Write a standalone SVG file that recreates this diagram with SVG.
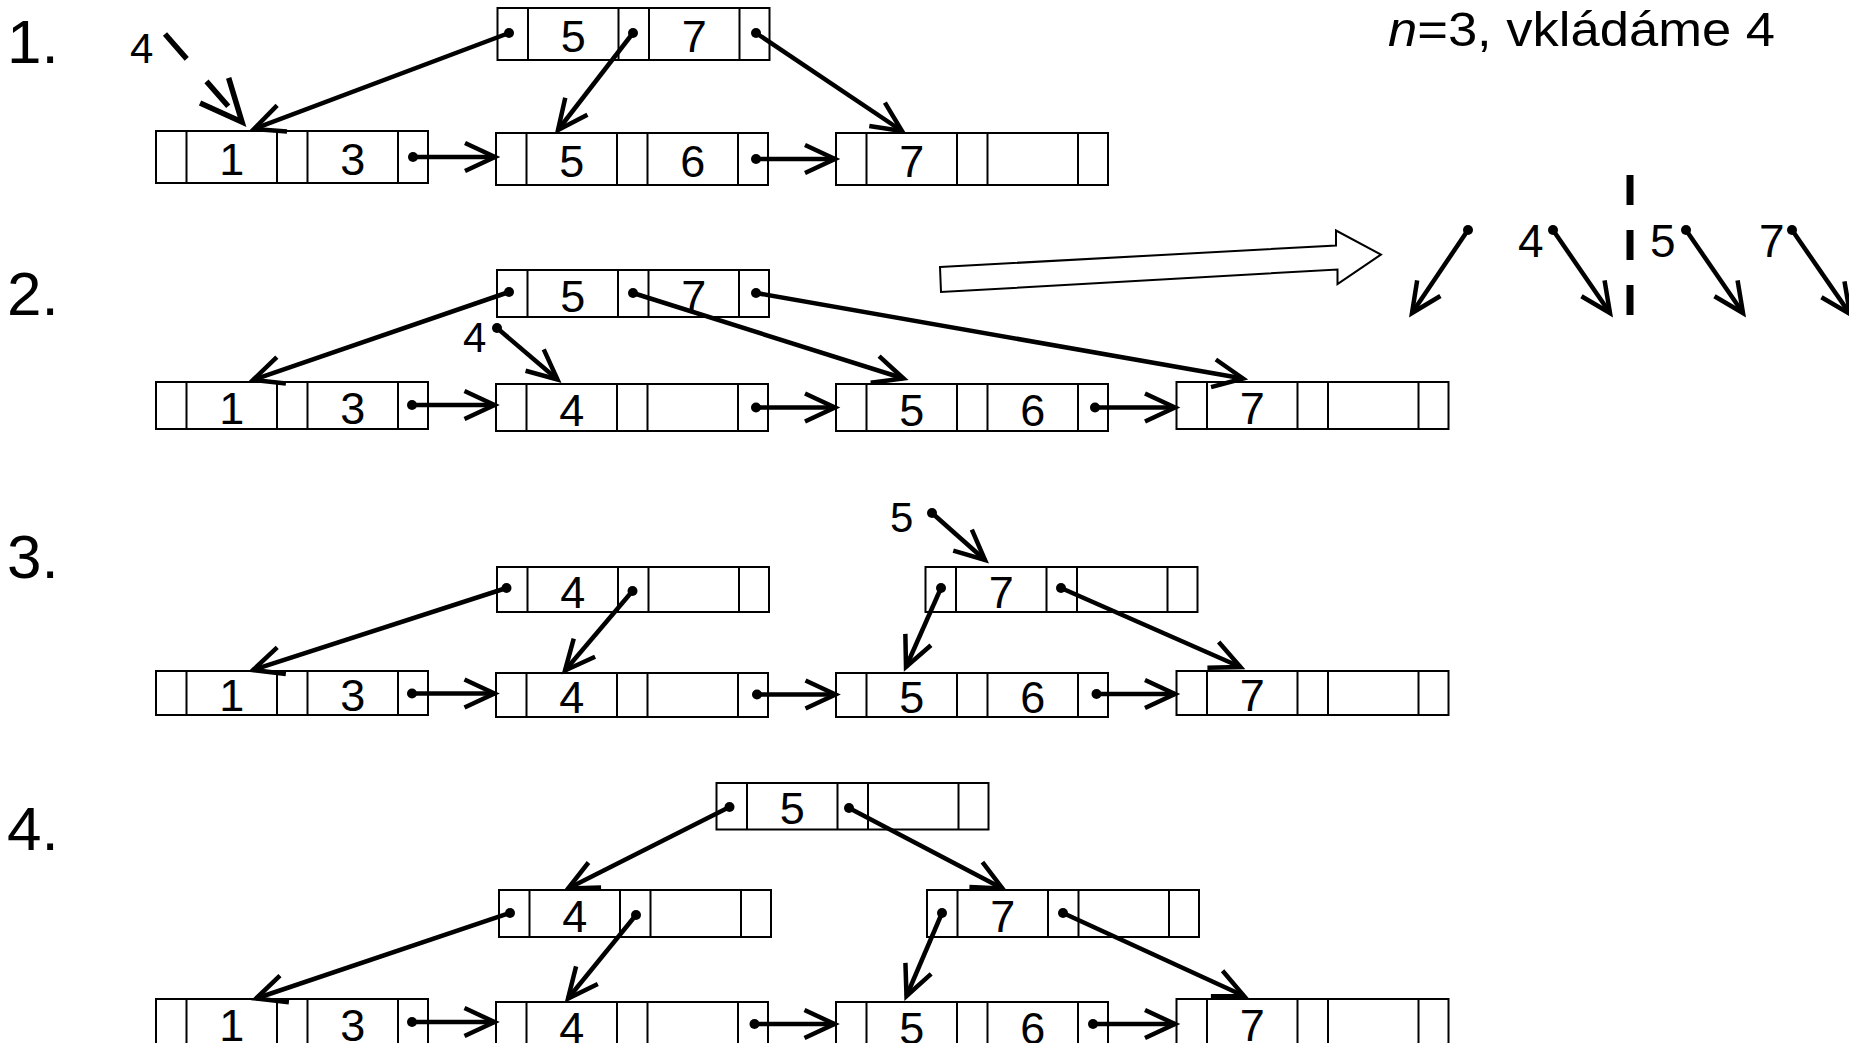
<svg xmlns="http://www.w3.org/2000/svg" width="1849" height="1043" viewBox="0 0 1849 1043">
<style>
.box{fill:#fff;stroke:#000;stroke-width:2}
.dv{fill:none;stroke:#000;stroke-width:2}
.k{font-family:"Liberation Sans",Arial,sans-serif;font-size:45px;text-anchor:middle;fill:#000}
.lbl{font-family:"Liberation Sans",Arial,sans-serif;font-size:62px;fill:#000}
.sm{font-family:"Liberation Sans",Arial,sans-serif;font-size:42px;fill:#000}
.md{font-family:"Liberation Sans",Arial,sans-serif;font-size:46px;fill:#000}
.a{stroke:#000;stroke-width:4.5;fill:none;marker-start:url(#dot);marker-end:url(#ah)}
</style>
<defs>
<marker id="ah" markerUnits="userSpaceOnUse" markerWidth="40" markerHeight="40" viewBox="-35 -20 40 40" refX="0" refY="0" orient="auto" overflow="visible">
<path d="M-30,-14L0,0L-30,14" fill="none" stroke="#000" stroke-width="4.5" stroke-dasharray="none"/>
</marker>
<marker id="ahb" markerUnits="userSpaceOnUse" markerWidth="60" markerHeight="60" viewBox="-50 -30 60 60" refX="0" refY="0" orient="auto" overflow="visible">
<path d="M-42,-19L0,0L-42,19" fill="none" stroke="#000" stroke-width="5.5" stroke-dasharray="none"/>
</marker>
<marker id="dot" markerUnits="userSpaceOnUse" markerWidth="12" markerHeight="12" viewBox="-6 -6 12 12" refX="0" refY="0" overflow="visible">
<circle r="5" fill="#000"/>
</marker>
</defs>
<rect width="1849" height="1043" fill="#fff"/>

<g id="labels">
<text class="lbl" x="7" y="63">1.</text>
<text class="lbl" x="7" y="315">2.</text>
<text class="lbl" x="7" y="578">3.</text>
<text class="lbl" x="7" y="850">4.</text>
<text font-family="Liberation Sans, Arial, sans-serif" font-size="48" x="1388" y="46" textLength="387" lengthAdjust="spacingAndGlyphs"><tspan font-style="italic">n</tspan>=3, vkládáme 4</text>
<text class="sm" x="130" y="63">4</text>
<text class="sm" x="463" y="352">4</text>
<text class="sm" x="890" y="532">5</text>
<text class="md" x="1518" y="257">4</text>
<text class="md" x="1650" y="257">5</text>
<text class="md" x="1759" y="257">7</text>
</g>

<!-- Row 1 -->
<g id="r1-root" transform="translate(497.5,8)"><rect class="box" width="272" height="52"/><path class="dv" d="M30.5,0v52M121,0v52M151.5,0v52M242,0v52"/><text class="k" x="75.75" y="44">5</text><text class="k" x="196.75" y="44">7</text></g>
<g id="r1-leaf1" transform="translate(156,131)"><rect class="box" width="272" height="52"/><path class="dv" d="M30.5,0v52M121,0v52M151.5,0v52M242,0v52"/><text class="k" x="75.75" y="44">1</text><text class="k" x="196.75" y="44">3</text></g>
<g id="r1-leaf2" transform="translate(496,133)"><rect class="box" width="272" height="52"/><path class="dv" d="M30.5,0v52M121,0v52M151.5,0v52M242,0v52"/><text class="k" x="75.75" y="44">5</text><text class="k" x="196.75" y="44">6</text></g>
<g id="r1-leaf3" transform="translate(836,133)"><rect class="box" width="272" height="52"/><path class="dv" d="M30.5,0v52M121,0v52M151.5,0v52M242,0v52"/><text class="k" x="75.75" y="44">7</text></g>

<!-- Row 2 -->
<g id="r2-root" transform="translate(497,270)"><rect class="box" width="272" height="47"/><path class="dv" d="M30.5,0v47M121,0v47M151.5,0v47M242,0v47"/><text class="k" x="75.75" y="42">5</text><text class="k" x="196.75" y="42">7</text></g>
<g id="r2-leaf1" transform="translate(156,382)"><rect class="box" width="272" height="47"/><path class="dv" d="M30.5,0v47M121,0v47M151.5,0v47M242,0v47"/><text class="k" x="75.75" y="42">1</text><text class="k" x="196.75" y="42">3</text></g>
<g id="r2-leaf2" transform="translate(496,384)"><rect class="box" width="272" height="47"/><path class="dv" d="M30.5,0v47M121,0v47M151.5,0v47M242,0v47"/><text class="k" x="75.75" y="42">4</text></g>
<g id="r2-leaf3" transform="translate(836,384)"><rect class="box" width="272" height="47"/><path class="dv" d="M30.5,0v47M121,0v47M151.5,0v47M242,0v47"/><text class="k" x="75.75" y="42">5</text><text class="k" x="196.75" y="42">6</text></g>
<g id="r2-leaf4" transform="translate(1176.5,382)"><rect class="box" width="272" height="47"/><path class="dv" d="M30.5,0v47M121,0v47M151.5,0v47M242,0v47"/><text class="k" x="75.75" y="42">7</text></g>

<!-- Row 3 -->
<g id="r3-int1" transform="translate(497,567)"><rect class="box" width="272" height="45"/><path class="dv" d="M30.5,0v45M121,0v45M151.5,0v45M242,0v45"/><text class="k" x="75.75" y="41">4</text></g>
<g id="r3-int2" transform="translate(925.5,567)"><rect class="box" width="272" height="45"/><path class="dv" d="M30.5,0v45M121,0v45M151.5,0v45M242,0v45"/><text class="k" x="75.75" y="41">7</text></g>
<g id="r3-leaf1" transform="translate(156,671)"><rect class="box" width="272" height="44"/><path class="dv" d="M30.5,0v44M121,0v44M151.5,0v44M242,0v44"/><text class="k" x="75.75" y="40">1</text><text class="k" x="196.75" y="40">3</text></g>
<g id="r3-leaf2" transform="translate(496,673)"><rect class="box" width="272" height="44"/><path class="dv" d="M30.5,0v44M121,0v44M151.5,0v44M242,0v44"/><text class="k" x="75.75" y="40">4</text></g>
<g id="r3-leaf3" transform="translate(836,673)"><rect class="box" width="272" height="44"/><path class="dv" d="M30.5,0v44M121,0v44M151.5,0v44M242,0v44"/><text class="k" x="75.75" y="40">5</text><text class="k" x="196.75" y="40">6</text></g>
<g id="r3-leaf4" transform="translate(1176.5,671)"><rect class="box" width="272" height="44"/><path class="dv" d="M30.5,0v44M121,0v44M151.5,0v44M242,0v44"/><text class="k" x="75.75" y="40">7</text></g>

<!-- Row 4 -->
<g id="r4-root" transform="translate(716.5,783)"><rect class="box" width="272" height="46.5"/><path class="dv" d="M30.5,0v46.5M121,0v46.5M151.5,0v46.5M242,0v46.5"/><text class="k" x="75.75" y="41">5</text></g>
<g id="r4-int1" transform="translate(499,890)"><rect class="box" width="272" height="47"/><path class="dv" d="M30.5,0v47M121,0v47M151.5,0v47M242,0v47"/><text class="k" x="75.75" y="42">4</text></g>
<g id="r4-int2" transform="translate(927,890)"><rect class="box" width="272" height="47"/><path class="dv" d="M30.5,0v47M121,0v47M151.5,0v47M242,0v47"/><text class="k" x="75.75" y="42">7</text></g>
<g id="r4-leaf1" transform="translate(156,999)"><rect class="box" width="272" height="47"/><path class="dv" d="M30.5,0v47M121,0v47M151.5,0v47M242,0v47"/><text class="k" x="75.75" y="42">1</text><text class="k" x="196.75" y="42">3</text></g>
<g id="r4-leaf2" transform="translate(496,1002)"><rect class="box" width="272" height="47"/><path class="dv" d="M30.5,0v47M121,0v47M151.5,0v47M242,0v47"/><text class="k" x="75.75" y="42">4</text></g>
<g id="r4-leaf3" transform="translate(836,1002)"><rect class="box" width="272" height="47"/><path class="dv" d="M30.5,0v47M121,0v47M151.5,0v47M242,0v47"/><text class="k" x="75.75" y="42">5</text><text class="k" x="196.75" y="42">6</text></g>
<g id="r4-leaf4" transform="translate(1176.5,999)"><rect class="box" width="272" height="47"/><path class="dv" d="M30.5,0v47M121,0v47M151.5,0v47M242,0v47"/><text class="k" x="75.75" y="42">7</text></g>

<g id="connectors">
<!-- row 1 -->
<line class="a" x1="509" y1="33" x2="254" y2="129"/>
<line class="a" x1="633" y1="33" x2="558" y2="130"/>
<line class="a" x1="756" y1="33" x2="902" y2="131"/>
<line class="a" x1="413" y1="157" x2="495" y2="157"/>
<line class="a" x1="756" y1="159" x2="835" y2="159"/>
<line x1="165" y1="34" x2="242" y2="122" stroke="#000" stroke-width="5.5" stroke-dasharray="33 30" marker-end="url(#ahb)"/>
<!-- row 2 -->
<line class="a" x1="509" y1="292" x2="253" y2="380"/>
<line class="a" x1="633" y1="293" x2="903.5" y2="378.5"/>
<line class="a" x1="756" y1="293" x2="1243" y2="378.5"/>
<line class="a" x1="497" y1="328" x2="557.5" y2="379.5"/>
<line class="a" x1="412" y1="405" x2="494.5" y2="405"/>
<line class="a" x1="756" y1="407.5" x2="835" y2="407.5"/>
<line class="a" x1="1095" y1="407.5" x2="1175" y2="407.5"/>
<!-- row 3 -->
<line class="a" x1="506.5" y1="588" x2="253" y2="670"/>
<line class="a" x1="632.5" y1="591" x2="565" y2="670.5"/>
<line class="a" x1="412" y1="693.5" x2="494.5" y2="693.5"/>
<line class="a" x1="757" y1="694.5" x2="835.5" y2="694.5"/>
<line class="a" x1="1096.5" y1="694" x2="1175" y2="694"/>
<line class="a" x1="932" y1="513" x2="985" y2="560"/>
<line class="a" x1="941" y1="588" x2="906" y2="667"/>
<line class="a" x1="1061" y1="588" x2="1240.5" y2="667"/>
<!-- row 4 -->
<line class="a" x1="729.5" y1="807" x2="568" y2="888.5"/>
<line class="a" x1="849" y1="808" x2="1002.5" y2="888.5"/>
<line class="a" x1="510" y1="913" x2="256" y2="998.5"/>
<line class="a" x1="636" y1="915" x2="568" y2="998.5"/>
<line class="a" x1="942" y1="913" x2="906.5" y2="996"/>
<line class="a" x1="1063" y1="913" x2="1244" y2="996"/>
<line class="a" x1="412" y1="1022" x2="494.5" y2="1022"/>
<line class="a" x1="754.5" y1="1024" x2="834.5" y2="1024"/>
<line class="a" x1="1093" y1="1024" x2="1175" y2="1024"/>
</g>

<g id="split-illustration">
<polygon points="940,267 1336,245.5 1336,230.5 1381,254.5 1337.5,284 1337.5,269.5 941,292" fill="#fff" stroke="#000" stroke-width="2"/>
<line class="a" x1="1468" y1="230" x2="1412" y2="313"/>
<line class="a" x1="1553" y1="230" x2="1610" y2="313"/>
<line class="a" x1="1686" y1="230" x2="1743" y2="313"/>
<line class="a" x1="1792" y1="230" x2="1850" y2="314"/>
<line x1="1630" y1="175" x2="1630" y2="316" stroke="#000" stroke-width="7" stroke-dasharray="30 25"/>
</g>
</svg>
